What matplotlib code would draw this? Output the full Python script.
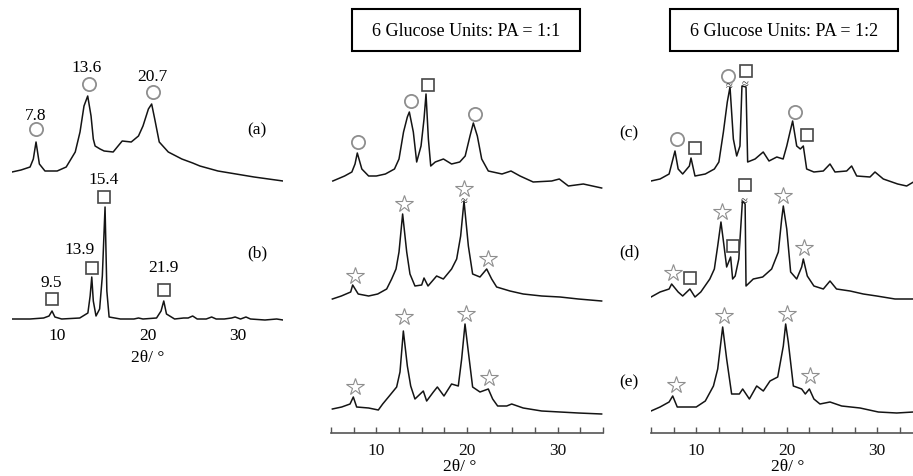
import numpy as np
import matplotlib.pyplot as plt
from matplotlib.patches import Rectangle

plt.rcParams['font.family'] = ['Liberation Serif', 'DejaVu Serif']

# ---- XRD patterns: 2theta (deg) and intensity (a.u.) ----
# (a) reference 1
theta_a = [5.0, 6.0, 7.0, 7.36, 7.66, 8.03, 8.65, 10.0, 11.0, 12.0, 12.53, 12.97, 13.38, 13.75, 14.0, 14.2,
           14.75, 15.2, 16.2, 16.65, 17.2, 18.2, 19.0, 19.5, 20.1, 20.46, 20.8, 21.3, 22.3, 23.8, 25.0, 25.8,
           27.8, 29.8, 31.8, 35.0]
int_a = [17, 19, 22, 30, 47, 25, 18, 18, 22, 37, 57, 83, 93, 73, 50, 43, 40, 38, 37, 42, 48, 47, 53, 63, 80,
         85, 70, 47, 37, 30, 26, 23, 18, 15, 12, 8]
# (b) reference 2
theta_b = [5.0, 7.0, 8.5, 9.1, 9.43, 9.75, 10.5, 12.5, 13.4, 13.65, 13.83, 14.0, 14.3, 14.7, 15.0, 15.3, 15.5,
           15.75, 17.0, 18.5, 19.0, 19.5, 21.0, 21.5, 21.8, 22.1, 23.0, 24.0, 24.5, 25.0, 25.5, 26.5, 27.1, 27.6,
           28.5, 29.3, 29.7, 30.3, 30.9, 31.4, 33.0, 34.3, 35.0]
int_b = [2, 2, 3, 5, 10, 4, 2, 3, 8, 25, 44, 20, 5, 12, 45, 114, 30, 4, 2, 2, 3, 2, 3, 10, 20, 7, 2, 3, 3, 5,
         2, 2, 4, 2, 2, 3, 4, 2, 4, 2, 1, 2, 1]

# PA = 1:1, three patterns top to bottom
theta_m1 = [5.2, 6.5, 7.3, 7.65, 7.9, 8.4, 9.15, 10.0, 11.0, 12.0, 12.5, 13.0, 13.42, 13.64, 14.08, 14.45, 14.93,
            15.26, 15.48, 15.74, 16.0, 16.5, 17.4, 18.3, 19.2, 19.8, 20.33, 20.7, 21.14, 21.62, 22.35, 23.86,
            24.85, 25.85, 27.3, 29.34, 30.18, 31.18, 32.83, 34.85]
int_m1 = [8, 13, 17, 25, 36, 20, 13, 13, 15, 20, 30, 57, 72, 77, 57, 27, 43, 70, 95, 50, 23, 27, 30, 25, 27,
          33, 53, 66, 53, 30, 18, 15, 18, 13, 7, 8, 10, 3, 5, 1]
theta_m2 = [5.15, 6.14, 7.17, 7.39, 8.0, 9.15, 10.15, 11.14, 11.69, 12.17, 12.5, 12.9, 13.35, 13.71, 14.26, 15.0,
            15.26, 15.7, 16.65, 17.39, 18.3, 18.86, 19.3, 19.67, 20.15, 20.62, 21.43, 22.17, 22.72, 23.27,
            24.74, 26.2, 28.24, 30.26, 32.28, 34.85]
int_m2 = [5, 8, 12, 19, 10, 8, 10, 15, 25, 35, 52, 90, 52, 30, 18, 19, 26, 18, 28, 25, 35, 45, 68, 103, 58,
          30, 27, 35, 25, 17, 13, 10, 8, 7, 5, 3]
theta_m3 = [5.15, 6.18, 7.1, 7.46, 7.83, 9.15, 10.22, 10.7, 11.43, 12.24, 12.61, 12.98, 13.42, 13.79, 14.26,
            15.18, 15.55, 16.29, 16.73, 17.46, 18.3, 19.04, 19.41, 19.78, 20.15, 20.62, 21.43, 22.35, 22.83,
            23.38, 24.38, 24.93, 26.2, 28.24, 30.26, 32.28, 34.85]
int_m3 = [8, 10, 13, 20, 10, 9, 7, 13, 21, 30, 45, 86, 51, 31, 18, 26, 16, 25, 30, 21, 33, 31, 58, 93, 65,
          30, 25, 28, 18, 11, 11, 13, 9, 6, 5, 4, 3]

# PA = 1:2, (c) (d) (e)
theta_c = [5.0, 6.0, 7.0, 7.65, 8.0, 8.5, 9.24, 9.42, 9.86, 11.0, 12.0, 12.5, 13.0, 13.43, 13.73, 14.1, 14.47,
           14.83, 15.05, 15.5, 15.68, 16.5, 17.4, 18.04, 18.9, 19.6, 20.0, 20.36, 20.65, 21.1, 21.5, 21.83,
           22.2, 23.0, 24.04, 24.78, 25.33, 26.62, 27.17, 27.73, 29.2, 29.75, 30.67, 32.26, 33.25, 34.0, 35.0]
int_c = [8, 10, 15, 38, 20, 15, 23, 31, 13, 15, 20, 27, 57, 87, 102, 50, 33, 43, 103, 102, 27, 30, 37, 28,
         32, 30, 43, 57, 68, 43, 40, 43, 20, 17, 18, 25, 17, 18, 23, 13, 12, 17, 10, 5, 3, 7, 5]
theta_d = [5.0, 6.0, 7.0, 7.28, 8.0, 8.5, 9.3, 9.86, 10.5, 11.5, 12.0, 12.37, 12.73, 13.07, 13.36, 13.8, 14.02,
           14.3, 14.7, 15.1, 15.4, 15.5, 16.3, 17.34, 18.33, 19.07, 19.44, 19.62, 20.0, 20.43, 21.1, 21.65,
           21.83, 22.27, 23.0, 24.04, 24.78, 25.5, 27.0, 28.46, 29.94, 31.96, 34.0, 35.0]
int_d = [7, 12, 15, 20, 12, 8, 15, 7, 12, 25, 35, 58, 82, 58, 37, 47, 25, 28, 45, 103, 100, 18, 25, 27, 35,
         52, 85, 98, 75, 32, 25, 37, 45, 28, 18, 15, 23, 15, 13, 10, 8, 5, 5, 4]
theta_e = [5.0, 6.0, 7.0, 7.4, 7.9, 9.0, 10.0, 11.0, 11.9, 12.37, 12.92, 13.36, 13.91, 14.76, 15.13, 15.87,
           16.68, 17.41, 18.15, 19.0, 19.62, 19.88, 20.17, 20.73, 21.65, 22.05, 22.5, 23.0, 23.67, 24.78, 26.07,
           28.1, 30.12, 32.15, 34.0, 35.0]
int_e = [6, 10, 15, 21, 10, 10, 10, 16, 31, 48, 90, 58, 23, 23, 28, 18, 31, 26, 36, 40, 71, 93, 75, 31, 28,
         23, 28, 18, 13, 15, 11, 9, 5, 4, 5, 4]

# peak assignment symbols: (symbol, 2theta, height)
marks_a = [('o', 7.66, 60), ('o', 13.56, 105), ('o', 20.57, 97)]
labels_a = [('7.8', 7.66, 74), ('13.6', 13.3, 122), ('20.7', 20.55, 113)]
marks_b = [('s', 9.4, 22), ('s', 13.83, 53), ('s', 15.22, 124), ('s', 21.83, 31)]
labels_b = [('9.5', 9.4, 39), ('13.9', 12.5, 72), ('15.4', 15.2, 142), ('21.9', 21.8, 54)]
marks_m1 = [('o', 8.0, 47), ('o', 13.78, 88), ('s', 15.66, 104), ('o', 20.9, 75)]
marks_m2 = [('*', 7.65, 28), ('*', 13.05, 100), ('*', 19.7, 115), ('*', 22.35, 45)]
marks_m3 = [('*', 7.65, 30), ('*', 13.05, 100), ('*', 19.85, 103), ('*', 22.4, 39)]
marks_c = [('o', 7.84, 50), ('s', 9.9, 41), ('o', 13.55, 113), ('s', 15.5, 118), ('o', 20.9, 77), ('s', 22.2, 54)]
marks_d = [('*', 7.47, 31), ('s', 9.31, 26), ('*', 12.81, 92), ('s', 14.03, 58), ('s', 15.39, 119),
           ('*', 19.62, 108), ('*', 21.94, 56)]
marks_e = [('*', 7.73, 32), ('*', 13.1, 101), ('*', 19.99, 103), ('*', 22.57, 41)]
breaks_m2 = [(19.67, 103)]
breaks_c = [(13.66, 103), (15.43, 105)]
breaks_d = [(15.28, 103)]

W, H = 913, 477
MK = {'o': dict(marker='o', ms=9.5, mfc='none', mec='#8e8e8e', mew=1.3),
      's': dict(marker='s', ms=8.5, mfc='none', mec='#474747', mew=1.2),
      '*': dict(marker='*', ms=13, mfc='none', mec='#8e8e8e', mew=0.8)}
FS = 12.5

fig = plt.figure(figsize=(W / 100, H / 100), dpi=100)


def panel(x0, w):
    ax = fig.add_axes([x0 / W, 0, w / W, 1])
    ax.set_xlim(5, 35)
    ax.set_ylim(0, H)
    ax.patch.set_alpha(0)
    for s in ax.spines.values():
        s.set_visible(False)
    ax.set_yticks([])
    return ax


def trace(ax, th, inten, base, marks=(), breaks=()):
    y0 = H - base
    ax.plot(th, np.asarray(inten) + y0, color='#141414', lw=1.1)
    for sym, t, h in marks:
        ax.plot(t, h + y0, linestyle='none', **MK[sym])
    for t, h in breaks:
        ax.text(t, h + y0, '≈', fontsize=9, ha='center', va='center', color='#333333')


def bottom_axis(ax, xlab_at):
    ax.spines['bottom'].set_visible(True)
    ax.spines['bottom'].set_position(('data', H - 434))
    ax.spines['bottom'].set_color('#555555')
    ax.spines['bottom'].set_linewidth(1.2)
    ticks = np.arange(5, 35.1, 2.5)
    ax.set_xticks(ticks)
    ax.set_xticklabels([f'{t:g}' if t in (10, 20, 30) else '' for t in ticks])
    ax.tick_params(axis='x', direction='in', length=4, width=1, color='#555555',
                   labelsize=FS, labelcolor='#111111', pad=6.5)
    ax.text(xlab_at, H - 467.5, '2θ/ °', fontsize=FS, ha='center', va='center')


# left panel: (a) and (b)
ax1 = panel(12, 271)
trace(ax1, theta_a, int_a, 190, marks_a)
trace(ax1, theta_b, int_b, 322, marks_b)
for txt, t, h in labels_a:
    ax1.text(t, h + H - 190, txt, fontsize=FS, ha='center', va='center')
for txt, t, h in labels_b:
    ax1.text(t, h + H - 322, txt, fontsize=FS, ha='center', va='center')
ax1.text(32.1, H - 130, '(a)', fontsize=FS, ha='center', va='center')
ax1.text(32.2, H - 253, '(b)', fontsize=FS, ha='center', va='center')
ax1.spines['bottom'].set_position(('data', H - 322))
ax1.set_xticks([10, 20, 30])
ax1.tick_params(axis='x', length=0, labelsize=FS, pad=4)
ax1.text(20, H - 358, '2θ/ °', fontsize=FS, ha='center', va='center')

# middle panel: PA = 1:1
ax2 = panel(331, 272)
trace(ax2, theta_m1, int_m1, 190, marks_m1)
trace(ax2, theta_m2, int_m2, 305, marks_m2, breaks_m2)
trace(ax2, theta_m3, int_m3, 418, marks_m3)
bottom_axis(ax2, 19.2)

# right panel: PA = 1:2
ax3 = panel(651, 271.5)
trace(ax3, theta_c, int_c, 190, marks_c, breaks_c)
trace(ax3, theta_d, int_d, 305, marks_d, breaks_d)
trace(ax3, theta_e, int_e, 418, marks_e)
bottom_axis(ax3, 20.1)
for lab, yy in [('(c)', 133), ('(d)', 252), ('(e)', 382)]:
    ax3.text(2.6, H - yy, lab, fontsize=FS, ha='center', va='center')

# boxed titles
for x0, txt in [(352, '6 Glucose Units: PA = 1:1'), (670, '6 Glucose Units: PA = 1:2')]:
    fig.add_artist(Rectangle((x0 / W, 1 - 52 / H), 228 / W, 42 / H, transform=fig.transFigure,
                             fill=False, lw=1.5, ec='black'))
    fig.text((x0 + 114) / W, 1 - 32 / H, txt, fontsize=13, ha='center', va='center')

fig.savefig('out.png', dpi=100)
